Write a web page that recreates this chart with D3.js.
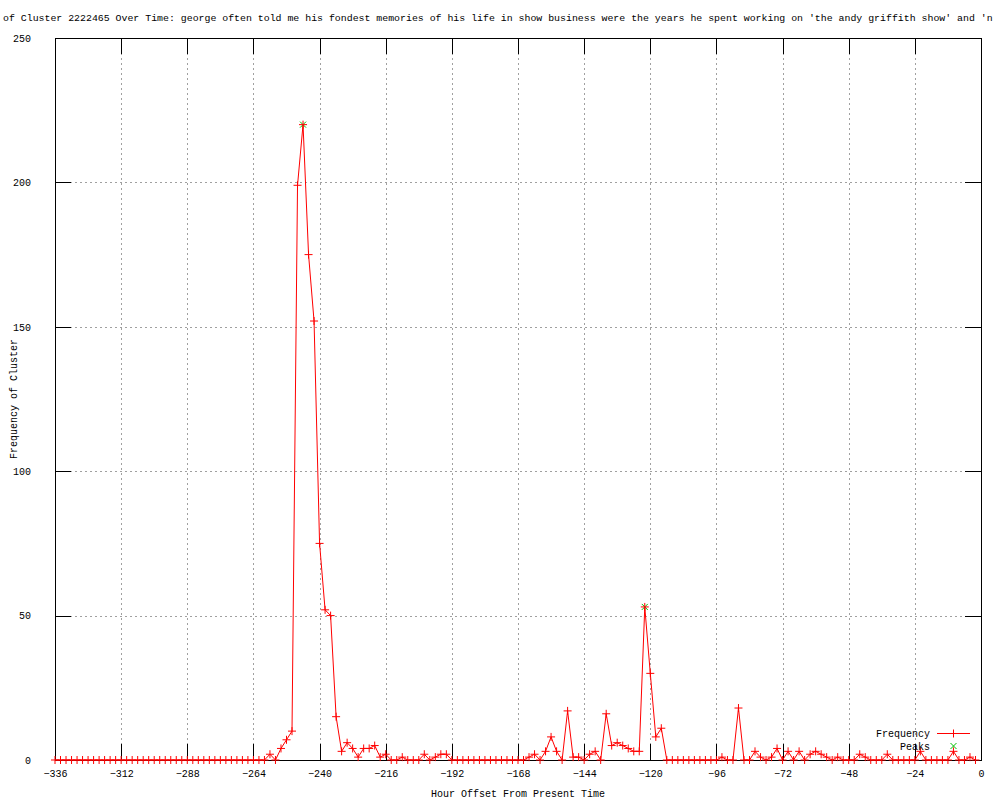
<!DOCTYPE html>
<html>
<head>
<meta charset="utf-8">
<script src="https://cdn.jsdelivr.net/npm/d3@7"></script>
<style>
  html, body { margin: 0; padding: 0; background: #fff; }
  svg { display: block; }
  text { font-family: "Liberation Mono", "DejaVu Sans Mono", monospace; font-size: 10px; fill: #000; }
</style>
</head>
<body>
<svg id="chart" width="1000" height="800"></svg>
<script>
// ---- data ----
const titleText = "of Cluster 2222465 Over Time: george often told me his fondest memories of his life in show business were the years he spent working on 'the andy griffith show' and 'n";
const xLabel = "Hour Offset From Present Time";
const yLabel = "Frequency of Cluster";
const hours = d3.range(-336, 0, 2);
const frequency = [
  // -336 .. -264
  0,0,0,0,0,0,0,0,0,0,0,0,0,0,0,0,0,0,0,0,0,0,0,0,0,0,0,0,0,0,0,0,0,0,0,0,0,
  // -262 .. -216
  0,0,2,0,4,7,10,199,220,175,152,75,52,50,15,3,6,4,1,4,4,5,1,2,
  // -214 .. -194
  0,0,1,0,0,0,2,0,1,2,2,
  // -192 .. -166
  0,0,0,0,0,0,0,0,0,0,0,0,0,0,
  // -164 .. -116
  1,2,0,3,8,3,0,17,1,1,0,2,3,0,16,5,6,5,4,3,3,53,30,8,11,
  // -114 .. -96
  0,0,0,0,0,0,0,0,0,0,
  // -94 .. -2
  1,0,0,18,0,0,3,1,0,1,4,0,3,0,3,0,2,3,2,1,0,1,0,0,0,2,1,0,0,0,2,0,0,0,0,0,3,0,0,0,0,0,3,0,0,1,0
];
const peakHours = [-246, -122];
const peakValues = [220, 53];
const xTickValues = [-336, -312, -288, -264, -240, -216, -192, -168, -144, -120, -96, -72, -48, -24, 0];
const yTickValues = [0, 50, 100, 150, 200, 250];
const seriesNames = ["Frequency", "Peaks"];

// ---- layout ----
const L = 55, R = 981, T = 38, B = 760;
const RED = "#ff0000", GREEN = "#00c000";
const svg = d3.select("#chart");
const x = d3.scaleLinear().domain([-336, 0]).range([L, R]);
const y = d3.scaleLinear().domain([0, 250]).range([B, T]);
const tickLen = 16;

// grid
const grid = svg.append("g").attr("stroke", "#a0a0a0").attr("stroke-width", 1).attr("stroke-dasharray", "2,3");
xTickValues.filter(v => v > -336 && v < 0).forEach(v => {
  grid.append("line").attr("x1", Math.round(x(v)) + 0.5).attr("x2", Math.round(x(v)) + 0.5)
    .attr("y1", T).attr("y2", B);
});
yTickValues.filter(v => v > 0 && v < 250).forEach(v => {
  grid.append("line").attr("x1", L).attr("x2", R)
    .attr("y1", Math.round(y(v)) + 0.5).attr("y2", Math.round(y(v)) + 0.5);
});

// axes via d3 axis (ticks inward, mirrored)
const xAxisB = d3.axisBottom(x).tickValues(xTickValues).tickSize(-tickLen).tickPadding(tickLen + 6).tickFormat(d3.format("d"));
const xAxisT = d3.axisTop(x).tickValues(xTickValues).tickSize(-tickLen).tickFormat("");
const yAxisL = d3.axisLeft(y).tickValues(yTickValues).tickSize(-tickLen).tickPadding(tickLen + 8).tickFormat(d3.format("d"));
const yAxisR = d3.axisRight(y).tickValues(yTickValues).tickSize(-tickLen).tickFormat("");

function styleAxis(g) {
  g.select(".domain").remove();
  g.selectAll(".tick line").attr("stroke", "#000").attr("shape-rendering", "crispEdges");
  g.selectAll("text").attr("font-family", "Liberation Mono, DejaVu Sans Mono, monospace").attr("font-size", 10).attr("fill", "#000");
}
const gxB = svg.append("g").attr("transform", `translate(0,${B})`).call(xAxisB).call(styleAxis);
svg.append("g").attr("transform", `translate(0,${T})`).call(xAxisT).call(styleAxis);
svg.append("g").attr("transform", `translate(${L},0)`).call(yAxisL).call(styleAxis);
svg.append("g").attr("transform", `translate(${R},0)`).call(yAxisR).call(styleAxis);
gxB.selectAll(".tick text").attr("dy", "0.35em").attr("y", 13);

// border
svg.append("rect").attr("x", L + 0.5).attr("y", T + 0.5).attr("width", R - L).attr("height", B - T)
  .attr("fill", "none").attr("stroke", "#000").attr("stroke-width", 1).attr("shape-rendering", "crispEdges");

// data
const pts = hours.map((h, i) => [h, frequency[i]]);
const line = d3.line().x(d => x(d[0])).y(d => y(d[1]));
svg.append("path").datum(pts).attr("d", line).style("fill", "none").style("stroke", RED).attr("stroke-width", 1);

const plusSize = 4;
const crossSize = 3;
// peaks (green x) drawn beneath the red crosses
const peaks = svg.append("g").style("stroke", GREEN).style("fill", "none").attr("stroke-width", 1);
peakHours.forEach((h, i) => {
  const cx = x(h), cy = y(peakValues[i]);
  peaks.append("path").attr("d", `M${cx - crossSize},${cy - crossSize}L${cx + crossSize},${cy + crossSize}M${cx - crossSize},${cy + crossSize}L${cx + crossSize},${cy - crossSize}`);
});
const plus = svg.append("g").style("stroke", RED).style("fill", "none").attr("stroke-width", 1);
pts.forEach(d => {
  const cx = x(d[0]), cy = y(d[1]);
  plus.append("path").attr("d", `M${cx - plusSize},${cy}H${cx + plusSize}M${cx},${cy - plusSize}V${cy + plusSize}`);
});

// legend
const legX = 930, legY1 = 733, legY2 = 746, symX = 953.5;
svg.append("text").attr("x", legX).attr("y", legY1).attr("dy", "0.35em").attr("text-anchor", "end").text(seriesNames[0]);
svg.append("path")
  .attr("d", `M937,${legY1 + 0.5}H970M${symX - plusSize},${legY1 + 0.5}H${symX + plusSize}M${symX},${legY1 + 0.5 - plusSize}V${legY1 + 0.5 + plusSize}`)
  .style("stroke", RED).style("fill", "none").attr("stroke-width", 1);
svg.append("text").attr("x", legX).attr("y", legY2).attr("dy", "0.35em").attr("text-anchor", "end").text(seriesNames[1]);
svg.append("path")
  .attr("d", `M${symX - crossSize},${legY2 - crossSize}L${symX + crossSize},${legY2 + crossSize}M${symX - crossSize},${legY2 + crossSize}L${symX + crossSize},${legY2 - crossSize}`)
  .style("stroke", GREEN).style("fill", "none").attr("stroke-width", 1);

// titles
svg.append("text").attr("x", 3).attr("y", 18).attr("dy", "0.35em").attr("text-anchor", "start")
  .style("font-size", "9.9px").text(titleText);
svg.append("text").attr("x", (L + R) / 2).attr("y", 793).attr("dy", "0.35em").attr("text-anchor", "middle").text(xLabel);
svg.append("text").attr("transform", `translate(13,${(T + B) / 2}) rotate(-90)`).attr("dy", "0.35em").attr("text-anchor", "middle").text(yLabel);
</script>
</body>
</html>
